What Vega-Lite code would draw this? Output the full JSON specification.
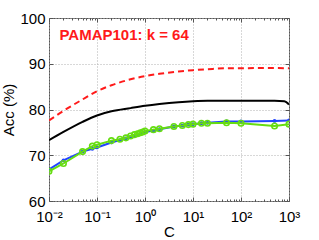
{
  "$schema": "https://vega.github.io/schema/vega-lite/v6.json",
  "width": 240,
  "height": 183,
  "autosize": {"type": "none"},
  "padding": {"left": 49, "top": 18, "right": 30, "bottom": 39},
  "background": "white",
  "config": {
    "font": "Liberation Sans",
    "view": {"stroke": "#555", "strokeWidth": 1},
    "axis": {
      "labelFont": "Liberation Sans",
      "titleFont": "Liberation Sans",
      "labelFontSize": 15,
      "titleFontSize": 15,
      "titleFontWeight": "normal",
      "labelColor": "#000",
      "titleColor": "#000",
      "domain": false,
      "tickColor": "#555",
      "gridColor": "#b0b0b0",
      "gridDash": [1, 2],
      "gridOpacity": 1
    }
  },
  "resolve": {"axis": {"x": "independent", "y": "independent"}},
  "datasets": {
    "curves": [
      {"C": 0.01, "acc": 77.6, "s": "red"}, {"C": 0.02, "acc": 79.7, "s": "red"}, {"C": 0.05, "acc": 82.2, "s": "red"},
      {"C": 0.1, "acc": 84.0, "s": "red"}, {"C": 0.2, "acc": 85.3, "s": "red"}, {"C": 0.5, "acc": 86.6, "s": "red"},
      {"C": 1, "acc": 87.3, "s": "red"}, {"C": 2, "acc": 87.8, "s": "red"}, {"C": 5, "acc": 88.3, "s": "red"},
      {"C": 10, "acc": 88.6, "s": "red"}, {"C": 20, "acc": 88.8, "s": "red"}, {"C": 50, "acc": 89.0, "s": "red"},
      {"C": 100, "acc": 89.0, "s": "red"}, {"C": 200, "acc": 89.05, "s": "red"}, {"C": 500, "acc": 89.05, "s": "red"},
      {"C": 1000, "acc": 89.0, "s": "red"},
      {"C": 0.01, "acc": 73.3, "s": "black"}, {"C": 0.02, "acc": 75.1, "s": "black"}, {"C": 0.05, "acc": 77.3, "s": "black"},
      {"C": 0.1, "acc": 78.7, "s": "black"}, {"C": 0.2, "acc": 79.6, "s": "black"}, {"C": 0.5, "acc": 80.3, "s": "black"},
      {"C": 1, "acc": 80.8, "s": "black"}, {"C": 2, "acc": 81.2, "s": "black"}, {"C": 5, "acc": 81.6, "s": "black"},
      {"C": 10, "acc": 81.8, "s": "black"}, {"C": 20, "acc": 81.9, "s": "black"}, {"C": 50, "acc": 81.9, "s": "black"},
      {"C": 100, "acc": 81.9, "s": "black"}, {"C": 200, "acc": 81.9, "s": "black"}, {"C": 500, "acc": 81.9, "s": "black"},
      {"C": 800, "acc": 81.8, "s": "black"}, {"C": 1000, "acc": 81.1, "s": "black"}
    ],
    "pts": [
      {"C": 0.01, "acc": 66.9, "s": "blue"}, {"C": 0.02, "acc": 68.9, "s": "blue"}, {"C": 0.05, "acc": 70.8, "s": "blue"},
      {"C": 0.08, "acc": 71.4, "s": "blue"}, {"C": 0.1, "acc": 71.7, "s": "blue"}, {"C": 0.2, "acc": 72.8, "s": "blue"},
      {"C": 0.3, "acc": 73.3, "s": "blue"}, {"C": 0.4, "acc": 73.7, "s": "blue"}, {"C": 0.5, "acc": 74.0, "s": "blue"},
      {"C": 0.6, "acc": 74.2, "s": "blue"}, {"C": 0.7, "acc": 74.5, "s": "blue"}, {"C": 0.8, "acc": 74.7, "s": "blue"},
      {"C": 0.9, "acc": 74.9, "s": "blue"}, {"C": 1, "acc": 75.1, "s": "blue"}, {"C": 1.5, "acc": 75.4, "s": "blue"},
      {"C": 2, "acc": 75.7, "s": "blue"}, {"C": 4, "acc": 76.3, "s": "blue"}, {"C": 6, "acc": 76.5, "s": "blue"},
      {"C": 8, "acc": 76.7, "s": "blue"}, {"C": 10, "acc": 76.8, "s": "blue"}, {"C": 15, "acc": 77.0, "s": "blue"},
      {"C": 20, "acc": 77.1, "s": "blue"}, {"C": 50, "acc": 77.4, "s": "blue"}, {"C": 100, "acc": 77.4, "s": "blue"},
      {"C": 500, "acc": 77.5, "s": "blue"}, {"C": 1000, "acc": 77.6, "s": "blue"},
      {"C": 0.01, "acc": 66.5, "s": "green"}, {"C": 0.02, "acc": 68.2, "s": "green"}, {"C": 0.05, "acc": 70.8, "s": "green"},
      {"C": 0.08, "acc": 72.0, "s": "green"}, {"C": 0.1, "acc": 72.3, "s": "green"}, {"C": 0.2, "acc": 73.2, "s": "green"},
      {"C": 0.3, "acc": 73.5, "s": "green"}, {"C": 0.4, "acc": 73.8, "s": "green"}, {"C": 0.5, "acc": 74.2, "s": "green"},
      {"C": 0.6, "acc": 74.5, "s": "green"}, {"C": 0.7, "acc": 74.7, "s": "green"}, {"C": 0.8, "acc": 74.9, "s": "green"},
      {"C": 0.9, "acc": 75.1, "s": "green"}, {"C": 1, "acc": 75.3, "s": "green"}, {"C": 1.5, "acc": 75.6, "s": "green"},
      {"C": 2, "acc": 75.8, "s": "green"}, {"C": 4, "acc": 76.3, "s": "green"}, {"C": 6, "acc": 76.5, "s": "green"},
      {"C": 8, "acc": 76.7, "s": "green"}, {"C": 10, "acc": 76.8, "s": "green"}, {"C": 15, "acc": 77.0, "s": "green"},
      {"C": 20, "acc": 77.0, "s": "green"}, {"C": 50, "acc": 77.1, "s": "green"}, {"C": 100, "acc": 77.0, "s": "green"},
      {"C": 500, "acc": 76.4, "s": "green"}, {"C": 1000, "acc": 76.8, "s": "green"}
    ],
    "label": [{"C": 0.0165, "acc": 96.3, "text": "PAMAP101: k = 64"}]
  },
  "layer": [
    {
      "data": {"name": "curves"},
      "transform": [{"filter": "datum.s === 'red'"}],
      "mark": {"type": "line", "color": "#ff1a1a", "strokeWidth": 2, "strokeDash": [6, 4], "interpolate": "monotone", "clip": true},
      "encoding": {
        "x": {
          "field": "C", "type": "quantitative",
          "scale": {"type": "log", "domain": [0.01, 1000], "nice": false},
          "axis": {
            "title": "C", "titlePadding": 0, "orient": "bottom",
            "values": [0.01, 0.1, 1, 10, 100, 1000],
            "labelExpr": "datum.value < 0.05 ? '10⁻²' : datum.value < 0.5 ? '10⁻¹' : datum.value < 5 ? '10⁰' : datum.value < 50 ? '10¹' : datum.value < 500 ? '10²' : '10³'",
            "grid": true, "tickSize": -4, "labelPadding": 12, "labelFlush": false
          }
        },
        "y": {
          "field": "acc", "type": "quantitative",
          "scale": {"domain": [60, 100], "nice": false},
          "axis": {
            "title": "Acc (%)", "titlePadding": 3, "orient": "left",
            "values": [60, 70, 80, 90, 100],
            "grid": true, "tickSize": -4, "labelPadding": 8
          }
        }
      }
    },
    {
      "data": {"name": "curves"},
      "transform": [{"filter": "datum.s === 'black'"}],
      "mark": {"type": "line", "color": "#000", "strokeWidth": 2, "interpolate": "monotone", "clip": true},
      "encoding": {
        "x": {"field": "C", "type": "quantitative", "axis": null},
        "y": {"field": "acc", "type": "quantitative", "axis": null}
      }
    },
    {
      "data": {"name": "pts"},
      "transform": [{"filter": "datum.s === 'blue'"}],
      "mark": {"type": "line", "color": "#2244ff", "strokeWidth": 2, "point": {"filled": true, "color": "#2244ff", "size": 14}, "clip": true},
      "encoding": {
        "x": {"field": "C", "type": "quantitative", "axis": null},
        "y": {"field": "acc", "type": "quantitative", "axis": null}
      }
    },
    {
      "data": {"name": "pts"},
      "transform": [{"filter": "datum.s === 'green'"}],
      "mark": {"type": "line", "color": "#66dd11", "strokeWidth": 2, "point": {"filled": false, "color": "#66dd11", "size": 30, "strokeWidth": 1.6}, "clip": true},
      "encoding": {
        "x": {"field": "C", "type": "quantitative", "axis": null},
        "y": {"field": "acc", "type": "quantitative", "axis": null}
      }
    },
    {
      "data": {"name": "pts"},
      "transform": [{"filter": "datum.s === 'blue'"}],
      "mark": {"type": "point", "opacity": 0},
      "encoding": {
        "x": {"field": "C", "type": "quantitative", "axis": {"orient": "top", "title": null, "labels": false, "grid": false, "tickSize": -4, "values": [0.01, 0.1, 1, 10, 100, 1000]}},
        "y": {"field": "acc", "type": "quantitative", "axis": {"orient": "right", "title": null, "labels": false, "grid": false, "tickSize": -4, "values": [60, 70, 80, 90, 100]}}
      }
    },
    {
      "data": {"name": "pts"},
      "transform": [{"filter": "datum.s === 'green'"}],
      "mark": {"type": "point", "opacity": 0},
      "encoding": {
        "x": {"field": "C", "type": "quantitative", "axis": {"orient": "bottom", "title": null, "labels": false, "grid": false, "tickSize": -2,
          "values": [0.02, 0.03, 0.04, 0.05, 0.06, 0.07, 0.08, 0.09, 0.2, 0.3, 0.4, 0.5, 0.6, 0.7, 0.8, 0.9, 2, 3, 4, 5, 6, 7, 8, 9, 20, 30, 40, 50, 60, 70, 80, 90, 200, 300, 400, 500, 600, 700, 800, 900]}},
        "y": {"field": "acc", "type": "quantitative", "axis": null}
      }
    },
    {
      "data": {"name": "curves"},
      "transform": [{"filter": "datum.s === 'red'"}],
      "mark": {"type": "point", "opacity": 0},
      "encoding": {
        "x": {"field": "C", "type": "quantitative", "axis": {"orient": "top", "title": null, "labels": false, "grid": false, "tickSize": -2,
          "values": [0.02, 0.03, 0.04, 0.05, 0.06, 0.07, 0.08, 0.09, 0.2, 0.3, 0.4, 0.5, 0.6, 0.7, 0.8, 0.9, 2, 3, 4, 5, 6, 7, 8, 9, 20, 30, 40, 50, 60, 70, 80, 90, 200, 300, 400, 500, 600, 700, 800, 900]}},
        "y": {"field": "acc", "type": "quantitative", "axis": null}
      }
    },
    {
      "data": {"name": "label"},
      "mark": {"type": "text", "align": "left", "baseline": "middle", "color": "#ff1a1a", "fontSize": 15, "fontWeight": "bold", "font": "Liberation Sans"},
      "encoding": {
        "x": {"field": "C", "type": "quantitative", "axis": null},
        "y": {"field": "acc", "type": "quantitative", "axis": null},
        "text": {"field": "text"}
      }
    }
  ]
}
